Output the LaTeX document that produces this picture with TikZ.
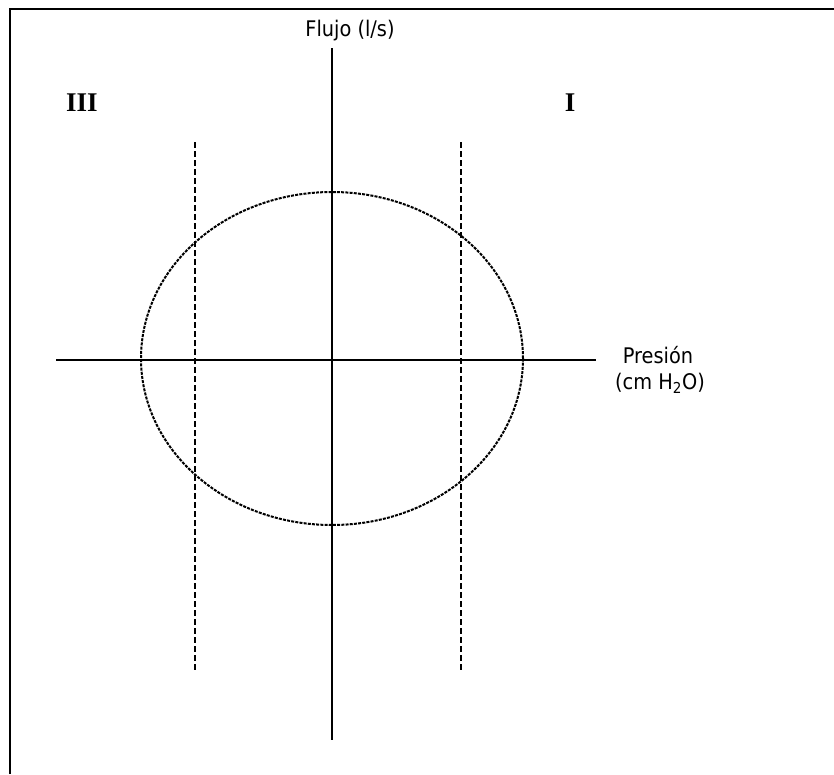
\documentclass[tikz,border=0pt]{standalone}
\usepackage{fontspec}
\setmainfont{Liberation Serif}
\newfontfamily\axfont[FakeStretch=0.9]{DejaVu Sans}
\begin{document}
\begin{tikzpicture}[x=1pt,y=-1pt,
  axis/.style={line width=1.6pt},
  frameline/.style={line width=2pt},
  limit/.style={line width=1.4pt, dash pattern=on 6pt off 3pt},
  loop/.style={line width=2pt, dash pattern=on 3pt off 1.2pt},
  axlabel/.style={font=\axfont\fontsize{21.5}{25}\selectfont, inner sep=0pt},
  roman/.style={font=\bfseries\fontsize{27}{30}\selectfont, inner sep=0pt}]
\useasboundingbox (0,0) rectangle (834,774);
\coordinate (fl) at (10,774);
\coordinate (fc) at (10,9);
\coordinate (fr) at (834,9);
\draw[frameline] (fl) -- (fc) -- (fr);
\coordinate (vt) at (332,48);
\coordinate (vb) at (332,740);
\coordinate (hl) at (56,360);
\coordinate (hr) at (596,360);
\draw[axis] (vt) -- (vb);
\draw[axis] (hl) -- (hr);
\coordinate (d1t) at (195,142);
\coordinate (d1b) at (195,670);
\coordinate (d2t) at (461,142);
\coordinate (d2b) at (461,670);
\draw[limit] (d1t) -- (d1b);
\draw[limit] (d2t) -- (d2b);
\coordinate (c) at (332,358.5);
\draw[loop] (c) ellipse [x radius=191, y radius=166.5];
\node[axlabel] (flujo) at (350,31) {Flujo (l/s)};
\node[axlabel] (pres) at (658,355) {Presión};
\node[axlabel] (unit) at (660,383) {(cm H\textsubscript{2}O)};
\node[roman] (q3) at (82,103) {III};
\node[roman] (q1) at (570,103) {I};
\end{tikzpicture}
\end{document}
